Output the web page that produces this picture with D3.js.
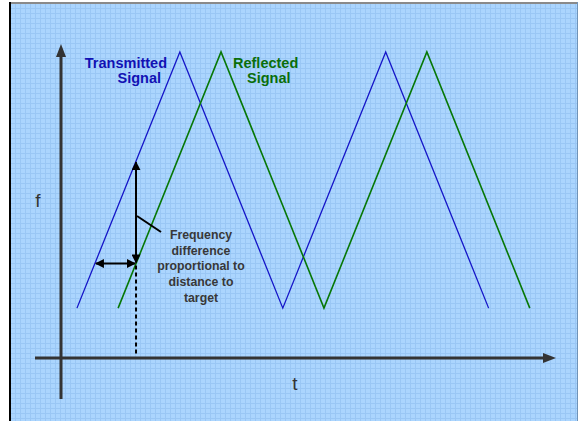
<!DOCTYPE html>
<html>
<head>
<meta charset="utf-8">
<script src="https://cdn.jsdelivr.net/npm/d3@7"></script>
<style>
  body { margin: 0; background: #fff; }
  svg { display: block; font-family: "Liberation Sans", Arial, sans-serif; }
</style>
</head>
<body>
<div class="chart"></div>
<script>
// DATA - time in half-periods, frequency normalised 0..1
const transmittedT = [0.155, 1.155, 2.155, 3.155, 4.155];
const transmittedF = [0.163, 1, 0.163, 1, 0.163];
const reflectedT = [0.555, 1.555, 2.555, 3.555, 4.555];
const reflectedF = [0.163, 1, 0.163, 1, 0.163];
const markerT = 0.729;
const axisLabels = ["f", "t"];
const seriesLabels = [["Transmitted", "Signal"], ["Reflected", "Signal"]];
const noteLines = ["Frequency", "difference", "proportional to", "distance to", "target"];

const width = 579, height = 421;
const svg = d3.select('.chart').append('svg')
    .attr('width', width)
    .attr('height', height);

// panel + grid
const panel = {x0: 11, y0: 4, x1: 577, y1: 421};
svg.append('rect')
    .attr('x', panel.x0).attr('y', panel.y0)
    .attr('width', panel.x1 - panel.x0).attr('height', panel.y1 - panel.y0)
    .attr('fill', '#abd5fe');
const grid = svg.append('g').attr('stroke', '#9ac7f5').attr('stroke-width', 1);
for (let gx = panel.x0 + 4.5; gx < panel.x1; gx += 5) {
    grid.append('line').attr('x1', gx).attr('x2', gx).attr('y1', panel.y0).attr('y2', panel.y1);
}
for (let gy = panel.y0 + 4.5; gy < panel.y1; gy += 5) {
    grid.append('line').attr('y1', gy).attr('y2', gy).attr('x1', panel.x0).attr('x2', panel.x1);
}
svg.append('line').attr('x1', panel.x0 - 1).attr('x2', panel.x1).attr('y1', 3).attr('y2', 3)
    .attr('stroke', '#8a8a8a').attr('stroke-width', 2);
svg.append('line').attr('x1', 10).attr('x2', 10).attr('y1', 2).attr('y2', panel.y1)
    .attr('stroke', '#000').attr('stroke-width', 2);
svg.append('line').attr('x1', 577.5).attr('x2', 577.5).attr('y1', 2).attr('y2', panel.y1)
    .attr('stroke', '#6f93b8').attr('stroke-width', 1);

// scales
const x = d3.scaleLinear().domain([0, 4.8]).range([61, 555]);
const y = d3.scaleLinear().domain([0, 1]).range([358, 52]);

// axes
const axisCol = '#333';
svg.append('line').attr('x1', x(0)).attr('x2', x(0)).attr('y1', 399).attr('y2', 56)
    .attr('stroke', axisCol).attr('stroke-width', 3);
svg.append('path').attr('d', `M${x(0)},44 L${x(0) - 5},57 L${x(0) + 5},57 Z`).attr('fill', axisCol);
svg.append('line').attr('x1', 35).attr('x2', 544).attr('y1', y(0)).attr('y2', y(0))
    .attr('stroke', axisCol).attr('stroke-width', 3);
svg.append('path').attr('d', `M556,${y(0)} L543,${y(0) - 5} L543,${y(0) + 5} Z`).attr('fill', axisCol);

svg.append('text').attr('x', 38).attr('y', 207).attr('text-anchor', 'middle')
    .attr('font-size', 19).attr('fill', axisCol).text(axisLabels[0]);
svg.append('text').attr('x', 295).attr('y', 390).attr('text-anchor', 'middle')
    .attr('font-size', 19).attr('fill', axisCol).text(axisLabels[1]);

// signals
const line = d3.line().x(d => x(d[0])).y(d => y(d[1]));
svg.append('path').datum(d3.zip(transmittedT, transmittedF))
    .attr('d', line).attr('fill', 'none').attr('stroke', '#1515c8').attr('stroke-width', 1.3);
svg.append('path').datum(d3.zip(reflectedT, reflectedF))
    .attr('d', line).attr('fill', 'none').attr('stroke', '#077807').attr('stroke-width', 1.6);

// series labels
const lbl = svg.append('g').attr('font-weight', 'bold').attr('font-size', 14.5);
lbl.append('text').attr('x', 167).attr('y', 68).attr('text-anchor', 'end').attr('fill', '#1111b4').text(seriesLabels[0][0]);
lbl.append('text').attr('x', 161).attr('y', 83).attr('text-anchor', 'end').attr('fill', '#1111b4').text(seriesLabels[0][1]);
lbl.append('text').attr('x', 233).attr('y', 68).attr('fill', '#0a6e0a').text(seriesLabels[1][0]);
lbl.append('text').attr('x', 247).attr('y', 83).attr('fill', '#0a6e0a').text(seriesLabels[1][1]);

// annotation
const interp = (ts, fs, t) => {
    for (let i = 0; i < ts.length - 1; i++) {
        if (t >= ts[i] && t <= ts[i + 1]) {
            return fs[i] + (fs[i + 1] - fs[i]) * (t - ts[i]) / (ts[i + 1] - ts[i]);
        }
    }
    return fs[0];
};
const fTx = interp(transmittedT, transmittedF, markerT);
const fRx = interp(reflectedT, reflectedF, markerT);
// time where transmitted had the received frequency
const tSame = transmittedT[0] + (fRx - transmittedF[0]) / (transmittedF[1] - transmittedF[0]) * (transmittedT[1] - transmittedT[0]);

const defs = svg.append('defs');
defs.append('marker').attr('id', 'ah').attr('viewBox', '0 0 10 10')
    .attr('refX', 9).attr('refY', 5).attr('markerWidth', 4.5).attr('markerHeight', 4.5)
    .attr('orient', 'auto-start-reverse').attr('markerUnits', 'strokeWidth')
    .append('path').attr('d', 'M0,0 L10,5 L0,10 Z').attr('fill', '#000');

svg.append('line').attr('x1', x(markerT)).attr('x2', x(markerT))
    .attr('y1', y(fRx) + 2).attr('y2', y(0) - 2)
    .attr('stroke', '#000').attr('stroke-width', 2).attr('stroke-dasharray', '4,3');
svg.append('line').attr('x1', x(markerT)).attr('x2', x(markerT))
    .attr('y1', y(fTx) + 1).attr('y2', y(fRx) - 1)
    .attr('stroke', '#000').attr('stroke-width', 2)
    .attr('marker-start', 'url(#ah)').attr('marker-end', 'url(#ah)');
svg.append('line').attr('x1', x(tSame) + 1).attr('x2', x(markerT) - 1)
    .attr('y1', y(fRx)).attr('y2', y(fRx))
    .attr('stroke', '#000').attr('stroke-width', 2)
    .attr('marker-start', 'url(#ah)').attr('marker-end', 'url(#ah)');
svg.append('line').attr('x1', x(markerT) + 1).attr('y1', 216).attr('x2', 161).attr('y2', 232)
    .attr('stroke', '#000').attr('stroke-width', 2);

const note = svg.append('text').attr('font-size', 12.3).attr('font-weight', 'bold')
    .attr('fill', '#383838').attr('text-anchor', 'middle');
noteLines.forEach((s, i) => {
    note.append('tspan').attr('x', 201).attr('y', 239 + i * 15.7).text(s);
});
</script>
</body>
</html>
